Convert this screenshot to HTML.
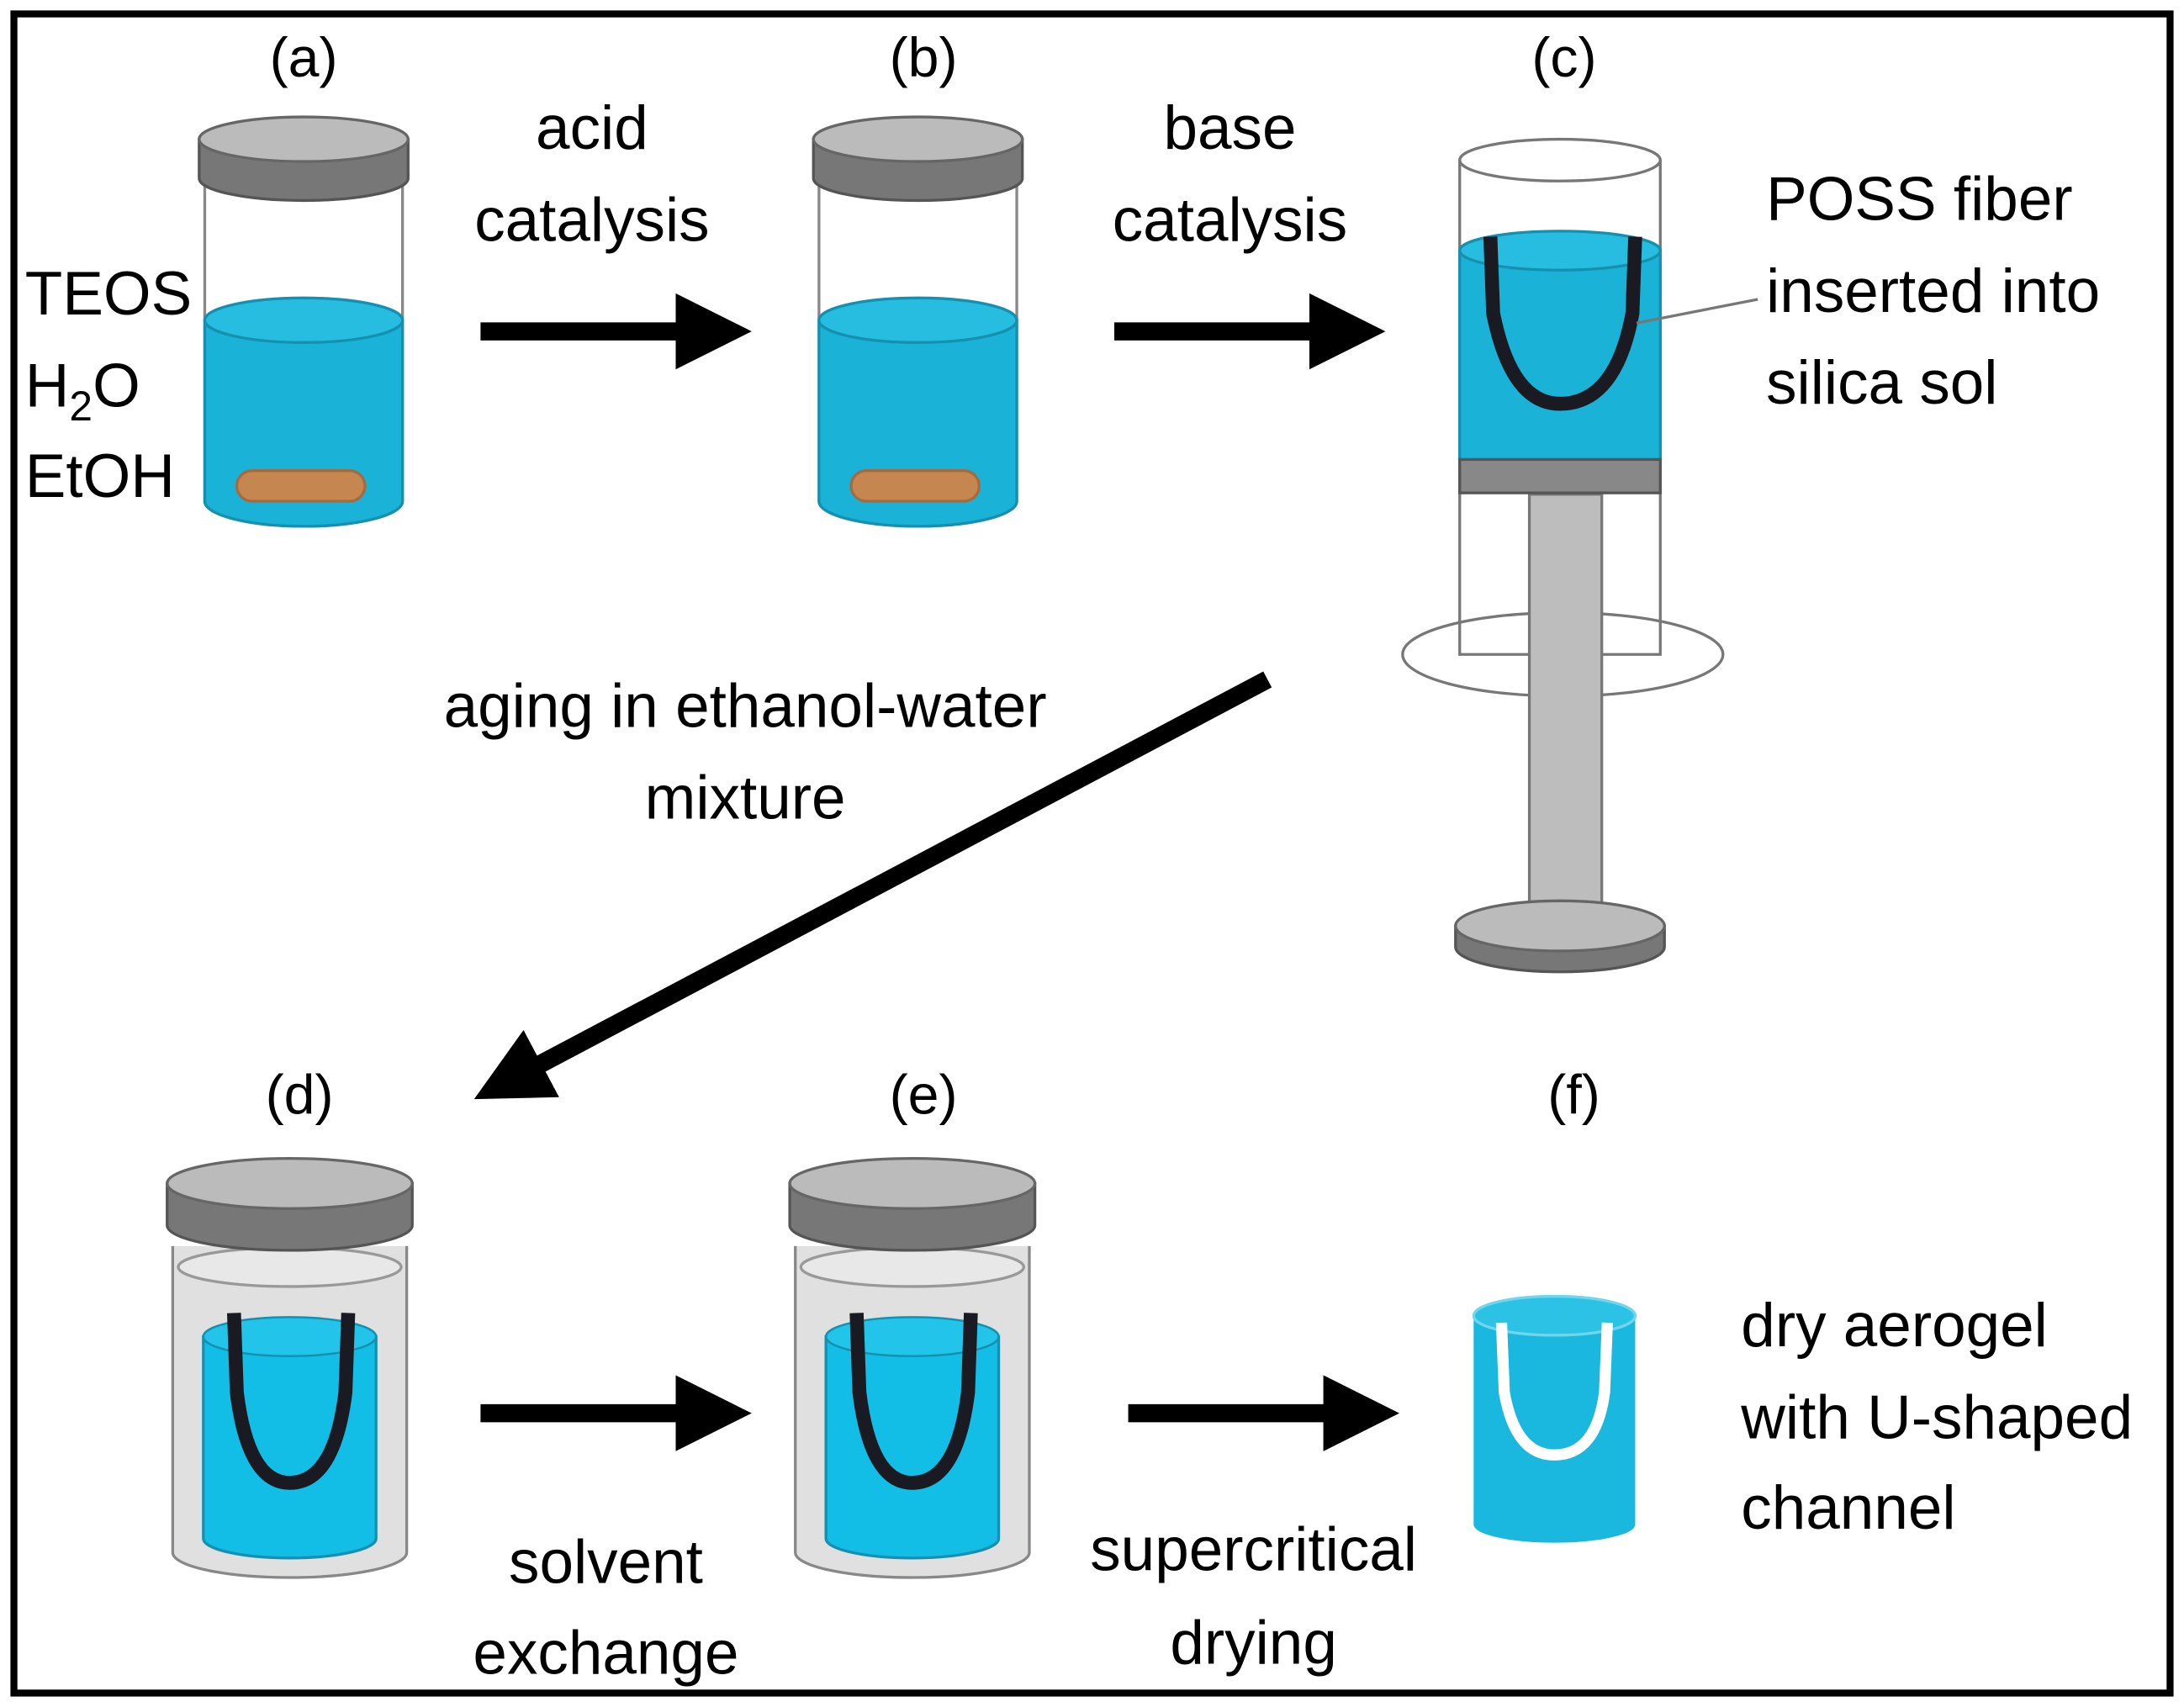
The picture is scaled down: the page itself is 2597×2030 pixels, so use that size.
<!DOCTYPE html>
<html><head><style>html,body{margin:0;padding:0;background:#fff}svg{display:block}</style></head>
<body>
<svg width="2597" height="2030" viewBox="0 0 1568 1226" preserveAspectRatio="none" xmlns="http://www.w3.org/2000/svg" font-family="Liberation Sans, sans-serif" font-size="44" fill="#000">
<defs>
<marker id="ah" viewBox="0 0 10 10" refX="2" refY="5" markerWidth="4.2" markerHeight="4.6" orient="auto" markerUnits="strokeWidth"><path d="M0,0 L10,5 L0,10 z" fill="#000"/></marker>
</defs>
<rect x="10" y="10" width="1548" height="1206" fill="none" stroke="#000" stroke-width="5"/>

<g font-size="40" text-anchor="middle">
<text x="218" y="55">(a)</text><text x="663" y="55">(b)</text><text x="1123" y="55">(c)</text>
<text x="215" y="800">(d)</text><text x="663" y="800">(e)</text><text x="1130" y="800">(f)</text>
</g>
<text x="18" y="226">TEOS</text>
<text x="18" y="292">H<tspan font-size="30" dy="10">2</tspan><tspan dy="-10">O</tspan></text>
<text x="18" y="357">EtOH</text>
<g text-anchor="middle">
<text x="425" y="107">acid</text><text x="425" y="173">catalysis</text>
<text x="883" y="107">base</text><text x="883" y="173">catalysis</text>
<text x="535" y="522">aging in ethanol-water</text><text x="535" y="588">mixture</text>
<text x="435" y="1137">solvent</text><text x="435" y="1202">exchange</text>
<text x="900" y="1128">supercritical</text><text x="900" y="1195">drying</text>
</g>
<text x="1268" y="158">POSS fiber</text><text x="1268" y="224">inserted into</text><text x="1268" y="290">silica sol</text>
<text x="1250" y="967">dry aerogel</text><text x="1250" y="1033">with U-shaped</text><text x="1250" y="1098">channel</text>

<g stroke="#000" stroke-width="13" marker-end="url(#ah)">
<line x1="345" y1="238" x2="496" y2="238"/>
<line x1="800" y1="238" x2="951" y2="238"/>
<line x1="910" y1="488" x2="379" y2="769"/>
<line x1="345" y1="1015" x2="496" y2="1015"/>
<line x1="810" y1="1015" x2="961" y2="1015"/>
</g>

<g id="jar">
<path d="M147,130 L147,360 A71,18 0 0 0 289,360 L289,130" fill="#fff" stroke="#888" stroke-width="2"/>
<path d="M147,230 L147,360 A71,18 0 0 0 289,360 L289,230 Z" fill="#1ab2d6" stroke="#1590b0" stroke-width="2"/>
<ellipse cx="218" cy="230" rx="71" ry="16" fill="#27bde0" stroke="#1590b0" stroke-width="2"/>
<rect x="170" y="338" width="92" height="22" rx="11" fill="#c58650" stroke="#a56a40" stroke-width="2"/>
<path d="M143,100 L143,128 A75,16 0 0 0 293,128 L293,100 Z" fill="#777" stroke="#555" stroke-width="2"/>
<ellipse cx="218" cy="100" rx="75" ry="16" fill="#bbb" stroke="#666" stroke-width="2"/>
</g>
<use href="#jar" transform="translate(441,0)"/>

<path d="M1048,115 L1048,470 L1192,470 L1192,115" fill="#fff" stroke="#777" stroke-width="2"/>
<ellipse cx="1120" cy="115" rx="72" ry="15" fill="#fff" stroke="#777" stroke-width="2"/>
<ellipse cx="1122" cy="470" rx="115" ry="30" fill="none" stroke="#777" stroke-width="2"/>
<rect x="1098" y="355" width="52" height="305" fill="#bdbdbd" stroke="#777" stroke-width="2"/>
<path d="M1045,665 L1045,680 A75,18 0 0 0 1195,680 L1195,665 Z" fill="#777" stroke="#555" stroke-width="2"/>
<ellipse cx="1120" cy="665" rx="75" ry="18" fill="#bbb" stroke="#666" stroke-width="2"/>
<rect x="1048" y="180" width="144" height="152" fill="#1ab2d6" stroke="#1590b0" stroke-width="2"/>
<ellipse cx="1120" cy="180" rx="72" ry="14" fill="#27bde0" stroke="#1590b0" stroke-width="2"/>
<rect x="1048" y="330" width="144" height="24" fill="#888" stroke="#555" stroke-width="2"/>
<path d="M1070,170 L1072,225 Q1085,290 1120,290 Q1160,290 1172,225 L1174,170" fill="none" stroke="#1a1a22" stroke-width="10"/>
<line x1="1175" y1="232" x2="1262" y2="215" stroke="#777" stroke-width="2"/>

<g id="jar2">
<path d="M124,895 L124,1115 A84,18 0 0 0 292,1115 L292,895" fill="#e0e0e0" stroke="#888" stroke-width="2"/>
<ellipse cx="208" cy="910" rx="80" ry="14" fill="#e8e8e8" stroke="#999" stroke-width="2"/>
<path d="M146,960 L146,1105 A62,14 0 0 0 270,1105 L270,960 Z" fill="#12bde6" stroke="#1590b0" stroke-width="2"/>
<ellipse cx="208" cy="960" rx="62" ry="14" fill="#22c4ea" stroke="#1590b0" stroke-width="1.5"/>
<path d="M168,943 L170,1000 Q178,1065 208,1065 Q240,1065 248,1000 L250,943" fill="none" stroke="#1a1a22" stroke-width="10"/>
<path d="M120,850 L120,880 A88,18 0 0 0 296,880 L296,850 Z" fill="#777" stroke="#555" stroke-width="2"/>
<ellipse cx="208" cy="850" rx="88" ry="18" fill="#bbb" stroke="#666" stroke-width="2"/>
</g>
<use href="#jar2" transform="translate(447,0)"/>

<path d="M1058,945 L1058,1095 A58,13 0 0 0 1174,1095 L1174,945 Z" fill="#1ab8de"/>
<ellipse cx="1116" cy="945" rx="58" ry="14" fill="#2cc2e6" stroke="#6fd6ee" stroke-width="2"/>
<path d="M1078,950 L1080,1000 Q1088,1045 1116,1045 Q1146,1045 1152,1000 L1154,950" fill="none" stroke="#fff" stroke-width="8"/>
</svg>
</body></html>
